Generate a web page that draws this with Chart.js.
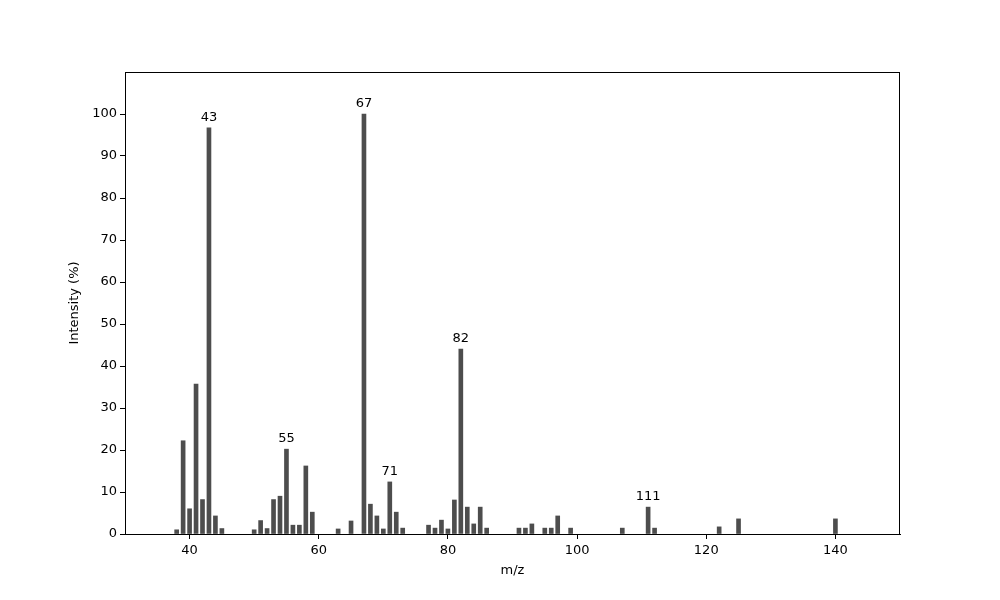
<!DOCTYPE html>
<html>
<head>
<meta charset="utf-8">
<script src="https://cdn.jsdelivr.net/npm/chart.js@4/dist/chart.umd.min.js"></script>
<style>
  html, body { margin: 0; padding: 0; background: #fff; }
  #wrap { width: 1000px; height: 600px; }
</style>
</head>
<body>
<div id="wrap"><canvas id="spec" width="1000" height="600"></canvas></div>
<script>
// m/z values and relative intensities (%)
var mz = [38, 39, 40, 41, 42, 43, 44, 45,
          50, 51, 52, 53, 54, 55, 56, 57, 58, 59,
          63, 65, 67, 68, 69, 70, 71, 72, 73,
          77, 78, 79, 80, 81, 82, 83, 84, 85, 86,
          91, 92, 93, 95, 96, 97, 99,
          107, 111, 112, 122, 125, 140];
var intensity = [1.0, 22.2, 6.0, 35.7, 8.2, 96.7, 4.3, 1.3,
                 1.0, 3.2, 1.3, 8.2, 9.0, 20.2, 2.1, 2.1, 16.2, 5.2,
                 1.2, 3.1, 100, 7.1, 4.3, 1.2, 12.4, 5.2, 1.4,
                 2.1, 1.4, 3.3, 1.2, 8.1, 44.0, 6.4, 2.4, 6.4, 1.4,
                 1.4, 1.4, 2.4, 1.4, 1.4, 4.3, 1.4,
                 1.4, 6.4, 1.4, 1.7, 3.6, 3.6];
var labeledPeaks = [43, 55, 67, 71, 82, 111];
var xTicks = [40, 60, 80, 100, 120, 140];
var yTicks = [0, 10, 20, 30, 40, 50, 60, 70, 80, 90, 100];

Chart.defaults.font.family = 'DejaVu Sans';
Chart.defaults.font.size = 13;
Chart.defaults.color = '#000';

var points = mz.map(function(m, i) { return { x: m, y: intensity[i] }; });

// box around plot + peak labels
var extras = {
  id: 'extras',
  afterDatasetsDraw: function(chart) {
    var ctx = chart.ctx, a = chart.chartArea;
    var xs = chart.scales.x, ys = chart.scales.y;
    ctx.save();
    ctx.strokeStyle = '#000';
    ctx.lineWidth = 1;
    ctx.strokeRect(a.left + 0.5, a.top + 0.5, a.right - a.left - 1, a.bottom - a.top);
    ctx.fillStyle = '#000';
    ctx.font = '13px "DejaVu Sans"';
    ctx.textAlign = 'center';
    ctx.textBaseline = 'bottom';
    labeledPeaks.forEach(function(p) {
      var v = intensity[mz.indexOf(p)];
      ctx.fillText(String(p), xs.getPixelForValue(p), ys.getPixelForValue(v) - 4);
    });
    ctx.restore();
  }
};

new Chart(document.getElementById('spec'), {
  type: 'bar',
  data: {
    datasets: [{
      data: points,
      backgroundColor: '#4d4d4d',
      borderWidth: 0,
      barThickness: 4
    }]
  },
  options: {
    responsive: false,
    animation: false,
    layout: { padding: { top: 72, right: 100, left: 0, bottom: 0 } },
    plugins: { legend: { display: false }, tooltip: { enabled: false } },
    scales: {
      x: {
        type: 'linear',
        min: 30, max: 150,
        offset: false,
        afterBuildTicks: function(s) { s.ticks = xTicks.map(function(v) { return { value: v }; }); },
        afterFit: function(s) { s.height = 66; },
        grid: { offset: false, drawOnChartArea: false, drawTicks: true, tickLength: 5, color: '#000' },
        border: { display: true, color: '#000' },
        ticks: { padding: 4, maxRotation: 0 },
        title: { display: true, text: 'm/z', font: { size: 13 }, padding: { top: 4, bottom: 22 } }
      },
      y: {
        min: 0, max: 110,
        afterBuildTicks: function(s) { s.ticks = yTicks.map(function(v) { return { value: v }; }); },
        afterFit: function(s) { s.width = 125; },
        grid: { drawOnChartArea: false, drawTicks: true, tickLength: 5, color: '#000' },
        border: { display: true, color: '#000' },
        ticks: { padding: 3 },
        title: { display: true, text: 'Intensity (%)', font: { size: 13 }, padding: { top: 67, bottom: 4 } }
      }
    }
  },
  plugins: [extras]
});
</script>
</body>
</html>
